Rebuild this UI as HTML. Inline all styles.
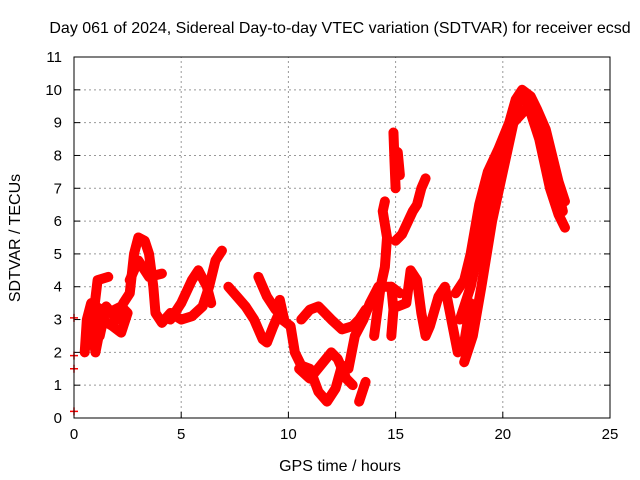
<!DOCTYPE html>
<html><head><meta charset="utf-8"><style>
body{margin:0;background:#fff}
svg{display:block;font-family:"Liberation Sans",sans-serif}
</style></head><body>
<svg id="chart" width="640" height="480" viewBox="0 0 640 480">
<text x="340" y="33" font-size="16" text-anchor="middle">Day 061 of 2024, Sidereal Day-to-day VTEC variation (SDTVAR) for receiver ecsd</text>
<text x="340" y="471" font-size="16" text-anchor="middle">GPS time / hours</text>
<text x="20" y="238" font-size="16" text-anchor="middle" transform="rotate(-90 20 238)">SDTVAR / TECUs</text>
<g id="grid"></g>
<g id="marks"></g>
<rect x="74" y="57" width="536" height="361" fill="none" stroke="#000" stroke-width="1"/>
</svg>
<script>
const xTicks=[0,5,10,15,20,25];
const yTicks=[0,1,2,3,4,5,6,7,8,9,10,11];
const traceMain=[[0.5,2.0],[0.6,3.0],[0.8,3.5],[1.0,3.2],[1.2,2.5],[1.5,3.4],[2.0,3.0],[2.3,3.5],[2.6,3.8],[2.8,5.0],[3.0,5.5],[3.3,5.4],[3.5,5.0],[3.7,4.0],[3.8,3.2],[4.1,2.9],[4.5,3.2],[5.0,3.0],[5.5,3.1],[6.0,3.4],[6.3,4.0],[6.6,4.8],[6.9,5.1]];
const traceBlob=[[0.6,2.2],[0.8,3.0],[1.0,2.0],[1.3,3.0],[1.8,2.8],[2.2,2.6],[2.5,3.2],[2.2,3.4],[1.6,3.2],[1.0,3.4]];
const traceSide1=[[0.7,2.8],[0.9,3.1],[1.1,4.2],[1.6,4.3]];
const traceSide2=[[2.6,4.2],[3.0,4.8],[3.5,4.3],[4.1,4.4]];
const traceSide3=[[4.5,3.0],[5.0,3.5],[5.5,4.2],[5.8,4.5],[6.2,4.0],[6.4,3.5]];
const traceMid=[[7.2,4.0],[7.6,3.7],[8.0,3.4],[8.4,3.0],[8.8,2.4],[9.0,2.3],[9.3,2.8],[9.5,3.1],[9.9,2.9],[10.1,2.8],[10.3,2.0],[10.6,1.6],[11.0,1.5],[11.4,0.8],[11.8,0.5],[12.2,0.9],[12.5,1.6],[12.8,1.5],[13.1,2.5],[13.5,3.0],[13.8,3.5],[14.2,4.0],[14.8,4.0],[15.2,3.8]];
const traceMid2=[[8.6,4.3],[9.0,3.7],[9.4,3.3],[9.6,3.6],[9.8,3.0]];
const traceMid3=[[10.6,3.0],[11.0,3.3],[11.4,3.4],[12.0,3.0],[12.5,2.7],[13.0,2.8],[13.3,3.0],[13.6,3.3]];
const traceMid4=[[10.5,1.5],[11.0,1.2],[11.5,1.6],[12.0,2.0],[12.3,1.8],[12.7,1.2],[13.0,1.0]];
const traceMid5=[[13.3,0.5],[13.6,1.1]];
const traceSpike1=[[14.0,2.5],[14.3,4.0],[14.5,4.6],[14.6,5.5],[14.4,6.3],[14.5,6.6]];
const traceSpike2=[[14.8,4.0],[14.9,3.3],[14.8,2.5]];
const traceSpike3=[[14.9,8.7],[14.95,7.8],[15.0,7.0]];
const traceSpike4=[[15.1,8.1],[15.2,7.4]];
const traceUp=[[15.0,5.4],[15.3,5.6],[15.8,6.3],[16.0,6.5],[16.2,7.0],[16.4,7.3]];
const traceW=[[15.1,3.4],[15.5,3.5],[15.7,4.5],[16.0,4.2],[16.2,3.2],[16.4,2.5],[16.6,2.8],[17.0,3.7],[17.3,4.0],[17.6,3.0],[17.9,2.0],[18.2,2.3],[18.5,3.5]];
const tracePeak=[[17.8,3.8],[18.2,4.2],[18.5,5.0],[18.9,6.5],[19.3,7.5],[19.8,8.2],[20.3,9.0],[20.6,9.7],[20.9,10.0],[21.3,9.8],[21.6,9.4],[22.0,8.8],[22.3,8.0],[22.6,7.2],[22.9,6.6]];
const tracePeakMid=[[18.0,3.0],[18.5,4.0],[18.9,5.2],[19.4,6.8],[19.9,8.0],[20.4,9.2],[20.8,9.7],[21.3,9.6],[21.8,8.8],[22.3,7.6],[22.8,6.3]];
const tracePeak2=[[18.2,1.7],[18.6,2.5],[19.0,4.0],[19.5,6.0],[20.0,7.5],[20.5,9.0],[21.2,9.5],[21.7,8.5],[22.2,7.0],[22.6,6.2],[22.9,5.8]];
const traceStart=[[0,0.2],[0,1.5],[0,1.9],[0,3.05]];
const traces=[traceMain,traceBlob,traceSide1,traceSide2,traceSide3,traceMid,traceMid2,traceMid3,traceMid4,traceMid5,traceSpike1,traceSpike2,traceSpike3,traceSpike4,traceUp,traceW,tracePeak,tracePeakMid,tracePeak2];

const NS="http://www.w3.org/2000/svg";
const X0=74,X1=610,Y0=418,Y1=57;
function xs(t){return X0+(t-0)/(25-0)*(X1-X0);}
function ys(v){return Y0-(v-0)/(11-0)*(Y0-Y1);}
function mk(tag,attrs,parent){const e=document.createElementNS(NS,tag);for(const k in attrs)e.setAttribute(k,attrs[k]);parent.appendChild(e);return e;}
const grid=document.getElementById('grid');
xTicks.forEach(t=>{
  const x=xs(t);
  if(t>0&&t<25){const l=mk('line',{x1:x,x2:x,y1:Y0,y2:Y1,stroke:'#999','stroke-dasharray':'2,3'},grid);
  
  }
  const tk=mk('line',{x1:x,x2:x,y1:Y0,y2:Y0-6,stroke:'#000'},grid);
  
  
  const tx=mk('text',{x:x,y:Y0+21,'font-size':15,'text-anchor':'middle'},grid);tx.textContent=t;
  
  
});
yTicks.forEach(v=>{
  const y=ys(v);
  if(v>0&&v<11){const l=mk('line',{x1:X0,x2:X1,y1:y,y2:y,stroke:'#999','stroke-dasharray':'2,3'},grid);
  
  }
  const tk=mk('line',{x1:X0,x2:X0+6,y1:y,y2:y,stroke:'#000'},grid);
  
  
  const tk2=mk('line',{x1:X1,x2:X1-6,y1:y,y2:y,stroke:'#000'},grid);
  
  
  const tx=mk('text',{x:X0-12,y:y+5,'font-size':15,'text-anchor':'end'},grid);tx.textContent=v;
  
  
});
const marks=document.getElementById('marks');
traces.forEach(tr=>{
  const p=mk('polyline',{points:tr.map(d=>xs(d[0])+','+ys(d[1])).join(' '),fill:'none',stroke:'#f00','stroke-width':10,'stroke-linejoin':'round','stroke-linecap':'round'},marks);
  
  
});
traces.concat([traceStart]).forEach(tr=>{
  tr.forEach(d=>{
    const x=xs(d[0]),y=ys(d[1]);
    const m=mk('path',{d:`M${x-4},${y}H${x+4}M${x},${y-4}V${y+4}`,stroke:'#f00','stroke-width':1.5},marks);
    
    
  });
});
</script>
</body></html>
